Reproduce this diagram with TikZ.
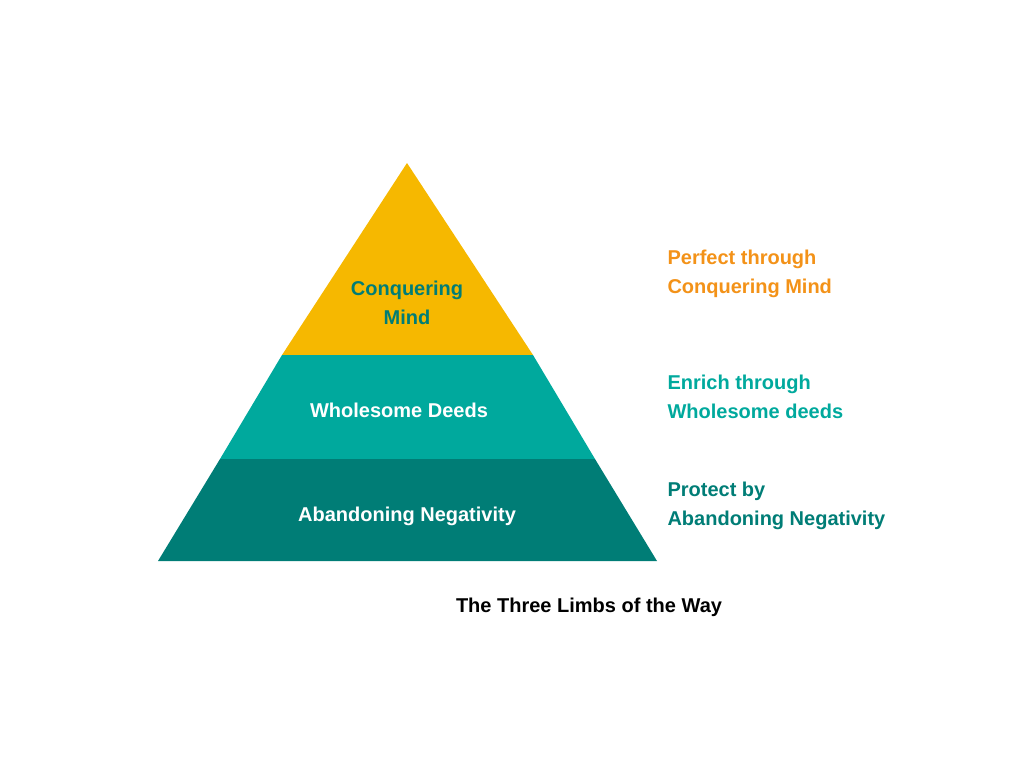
\documentclass[tikz,border=0pt]{standalone}
\usepackage{fontspec}
\setmainfont{Liberation Sans}
\definecolor{ylw}{HTML}{F6B800}
\definecolor{tl}{HTML}{00A99D}
\definecolor{dtl}{HTML}{007D76}
\definecolor{org}{HTML}{F39218}
\begin{document}
\begin{tikzpicture}[x=1pt,y=-1pt,
  lbl/.style={font=\bfseries\fontsize{20}{29}\selectfont,align=center},
  side/.style={font=\bfseries\fontsize{20}{29}\selectfont,align=left,anchor=west}]
\useasboundingbox (0,0) rectangle (1024,768);
\fill[ylw] (407,163) -- (533,355) -- (282,355) -- cycle;
\fill[tl] (282,355) -- (533,355) -- (595,459) -- (220,459) -- cycle;
\fill[dtl] (220,459) -- (595,459) -- (657,561) -- (158,561) -- cycle;
\node[lbl,text=dtl] (a) at (407,303) {Conquering\\Mind};
\node[lbl,text=white] (b) at (399,410) {Wholesome Deeds};
\node[lbl,text=white] (c) at (407,516) {Abandoning Negativity};
\node[side,text=org] (d) at (664,274) {Perfect through\\Conquering Mind};
\node[side,text=tl] (e) at (664,397) {Enrich through\\Wholesome deeds};
\node[side,text=dtl] (f) at (664,506) {Protect by\\Abandoning Negativity};
\node[lbl,text=black] (t) at (589,607) {The Three Limbs of the Way};
\end{tikzpicture}
\end{document}
